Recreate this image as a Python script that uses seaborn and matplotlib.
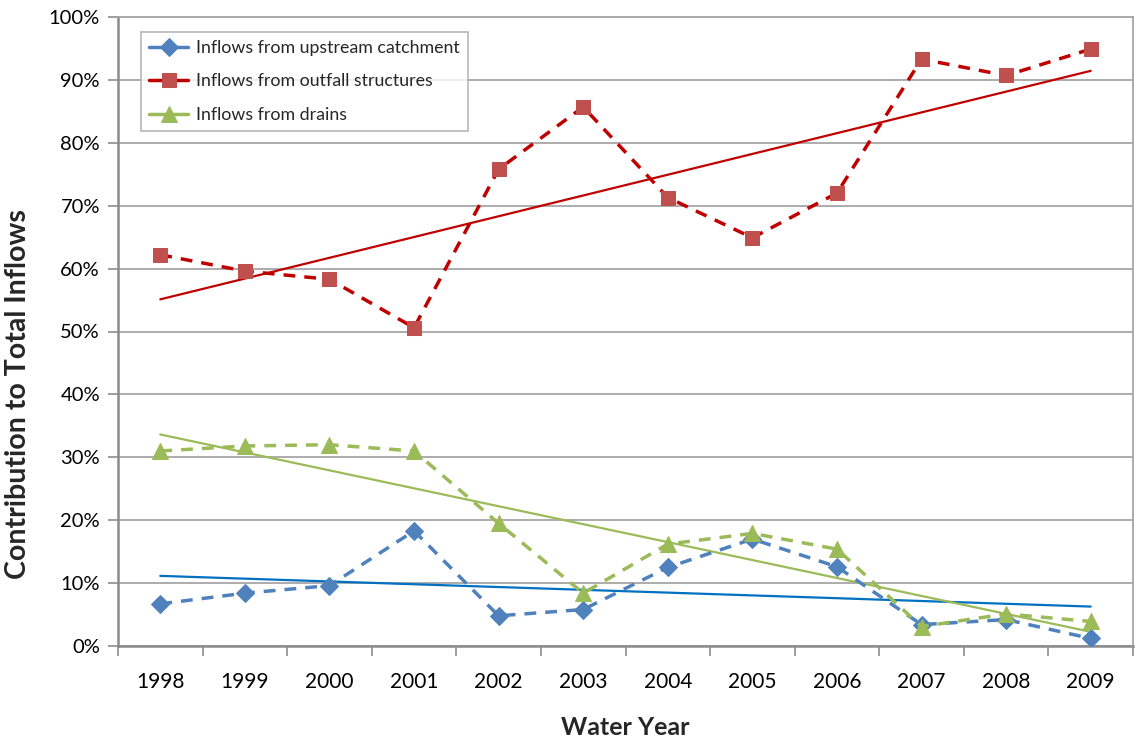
import matplotlib
matplotlib.use("Agg")
import matplotlib.pyplot as plt
import seaborn as sns
import numpy as np
import pandas as pd
from matplotlib.ticker import PercentFormatter, MultipleLocator

years = [1998, 1999, 2000, 2001, 2002, 2003, 2004, 2005, 2006, 2007, 2008, 2009]
upstream = [6.7, 8.4, 9.6, 18.3, 4.8, 5.8, 12.5, 17.0, 12.6, 3.4, 4.2, 1.2]
outfall = [62.2, 59.6, 58.3, 50.6, 75.8, 85.7, 71.3, 64.9, 72.0, 93.3, 90.7, 94.9]
drains = [31.0, 31.8, 32.0, 31.0, 19.5, 8.4, 16.2, 17.9, 15.4, 3.1, 5.1, 3.9]
labels = ["Inflows from upstream catchment", "Inflows from outfall structures", "Inflows from drains"]

sns.set_theme(style="white")
plt.rcParams['font.family'] = ['Lato', 'DejaVu Sans']

fig = plt.figure(figsize=(11.35, 7.39), dpi=100)
ax = fig.add_axes([118/1135, 93/739, (1133-118)/1135, (646-17)/739])

series = [
    (upstream, labels[0], "#4F81BD", "#4F81BD", "D", 9, "#0070C0"),
    (outfall, labels[1], "#C00000", "#C0504D", "s", 10, "#C00000"),
    (drains, labels[2], "#9BBB59", "#9BBB59", "^", 11, "#9BBB59"),
]

for vals, lab, lc, mc, mk, ms, tc in series:
    df = pd.DataFrame({"year": years, "val": vals})
    sns.lineplot(data=df, x="year", y="val", ax=ax, color=lc, linewidth=2.5,
                 marker=mk, markersize=ms, markerfacecolor=mc, markeredgecolor=mc,
                 label=lab, zorder=3)
    ax.lines[-1].set_dashes([3.4, 2.6])
for vals, lab, lc, mc, mk, ms, tc in series:
    df = pd.DataFrame({"year": years, "val": vals})
    sns.regplot(data=df, x="year", y="val", ax=ax, scatter=False, ci=None,
                truncate=True, line_kws={"color": tc, "linewidth": 1.6, "zorder": 2})

ax.set_xlim(1997.5, 2009.5)
ax.set_ylim(0, 100)
ax.set_xticks(years)
ax.set_xticklabels([str(y) for y in years])
ax.xaxis.set_minor_locator(MultipleLocator(1, offset=0.5))
ax.yaxis.set_major_locator(MultipleLocator(10))
ax.yaxis.set_major_formatter(PercentFormatter(decimals=0))
ax.tick_params(axis="x", which="major", length=0, labelsize=15, pad=19, colors="#000000")
ax.tick_params(axis="x", which="minor", length=7, width=1.2, color="#8C8C8C", direction="out", bottom=True)
ax.tick_params(axis="y", which="major", length=7, width=1.2, color="#8C8C8C", direction="out", left=True, labelsize=14.5, pad=6, labelcolor="#000000")
ax.grid(axis="y", color="#A6A6A6", linewidth=1.3)
ax.set_axisbelow(True)
for s in ["left", "bottom"]:
    ax.spines[s].set_color("#8C8C8C")
    ax.spines[s].set_linewidth(1.8)
for s in ["top", "right"]:
    ax.spines[s].set_color("#A6A6A6")
    ax.spines[s].set_linewidth(1.3)

ax.set_xlabel("Water Year", fontsize=18, fontweight="bold", labelpad=17)
ax.set_ylabel("Contribution to Total Inflows", fontsize=20.5, fontweight="bold")
ax.yaxis.set_label_coords((31-118)/1015, (646-394)/629)

leg = ax.legend(loc="upper left", bbox_to_anchor=((141-118)/1015, (646-32)/629),
                borderaxespad=0, fontsize=12.8, frameon=True, fancybox=False, edgecolor="#A6A6A6",
                borderpad=0.45, labelspacing=0.98, handlelength=2.2, handletextpad=0.45)
leg.get_frame().set_linewidth(1.2)
for h in leg.get_lines():
    h.set_dashes([])

fig.savefig("out.png", dpi=100)
